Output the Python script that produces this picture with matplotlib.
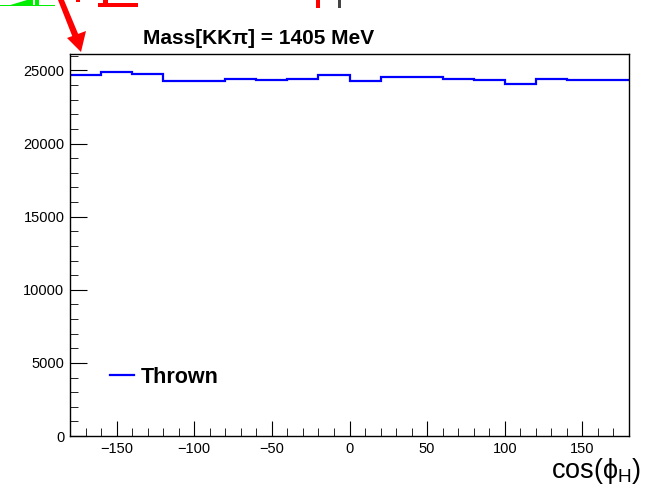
import numpy as np
import matplotlib.pyplot as plt
from matplotlib.patches import Polygon
from matplotlib.ticker import MultipleLocator

plt.rcParams['font.family'] = ['Liberation Sans', 'DejaVu Sans']
plt.rcParams['mathtext.fontset'] = 'custom'
plt.rcParams['mathtext.rm'] = 'Liberation Sans'
plt.rcParams['mathtext.it'] = 'Liberation Sans'

# histogram data: 18 bins of 20 deg
bin_edges = np.arange(-180, 181, 20)
counts = [24655, 24880, 24764, 24286, 24286, 24402, 24333, 24422, 24696,
          24286, 24559, 24559, 24422, 24354, 24080, 24422, 24354, 24354]
title = 'Mass[KK\u03c0] = 1405 MeV'
legend_label = 'Thrown'

W, H = 654, 490
fig = plt.figure(figsize=(W / 100, H / 100), dpi=100)
ax = fig.add_axes([70 / W, 1 - 436 / H, (629 - 70) / W, (436 - 54) / H])

ax.stairs(counts, bin_edges, baseline=None, color='#0000ff', lw=1.6, label=legend_label)
ax.set_xlim(-180, 180)
ax.set_ylim(0, max(counts) * 1.05)

ax.xaxis.set_major_locator(MultipleLocator(50))
ax.xaxis.set_minor_locator(MultipleLocator(10))
ax.yaxis.set_major_locator(MultipleLocator(5000))
ax.yaxis.set_minor_locator(MultipleLocator(1000))
ax.tick_params(which='both', direction='in', top=False, right=False, labelsize=10.5, pad=4)
ax.tick_params(which='major', axis='y', length=12)
ax.tick_params(which='minor', axis='y', length=6)
ax.tick_params(which='major', axis='x', length=11)
ax.tick_params(which='minor', axis='x', length=5.5)
for sp in ax.spines.values():
    sp.set_linewidth(1.0)

ax.legend(loc='center left', bbox_to_anchor=(40 / 559, (436 - 377) / 382), frameon=False,
          borderpad=0, borderaxespad=0, handlelength=1.1, handletextpad=0.35,
          prop={'size': 15.5, 'weight': 'bold'})

fig.text(259 / W, 1 - 39 / H, title, ha='center', va='center', fontsize=15, fontweight='bold')
fig.text(641 / W, 1 - 471 / H, r'cos$\left(\phi_{H}\right)$', ha='right', va='center', fontsize=19.5)

# clipped annotation pieces at the top edge (pixel coords, y from top)
def px(points):
    return [(x / W, 1 - y / H) for x, y in points]

def add_poly(points, color):
    fig.add_artist(Polygon(px(points), closed=True, facecolor=color, edgecolor='none',
                           transform=fig.transFigure))

green = '#00ee00'
red = '#ff0000'
add_poly([(7, 6), (27, 0), (33, 0), (33, 6)], green)
add_poly([(35, 0), (39, 0), (39, 6), (35, 6)], green)
add_poly([(0, 5.5), (55, 5.5), (55, 6.5), (0, 6.5)], green)
add_poly([(58, 0), (64, 0), (79, 36), (73, 38)], red)
add_poly([(67, 38), (86, 31), (81, 52)], red)
add_poly([(76, 0), (80, 0), (80, 2), (76, 2)], red)
add_poly([(98, 3), (138, 3), (138, 7), (98, 7)], red)
add_poly([(103, 0), (108, 0), (108, 7), (103, 7)], red)
add_poly([(316, 0), (320, 0), (320, 8), (316, 8)], red)
add_poly([(338, 0), (341, 0), (341, 8), (338, 8)], '#444444')

fig.savefig('out.png', dpi=100)
